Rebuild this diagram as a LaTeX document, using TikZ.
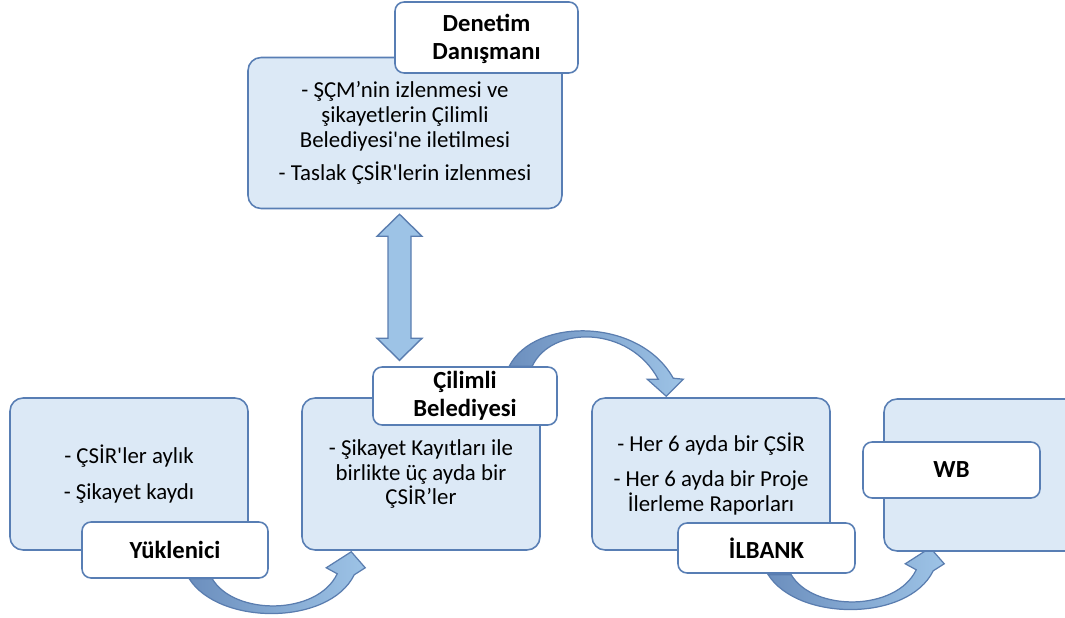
\documentclass[tikz,border=0pt]{standalone}
\usepackage{fontspec}
\setmainfont{Carlito}
\usetikzlibrary{calc,backgrounds}
\definecolor{boxfill}{RGB}{220,233,246}
\definecolor{boxline}{RGB}{88,126,180}
\definecolor{arrowfill}{RGB}{157,195,230}
\definecolor{arrowdark}{RGB}{108,143,190}
\definecolor{arrowline}{RGB}{90,125,175}
\tikzset{
	infobox/.style={draw=boxline, fill=boxfill, line width=0.9pt, rounded corners=0.26cm,
		minimum width=4.76cm, minimum height=3.04cm, inner sep=0pt, align=center,
		font=\fontsize{13}{14.2}\selectfont},
	tagbox/.style={draw=boxline, fill=white, line width=0.9pt, rounded corners=0.18cm,
		inner sep=0pt, align=center, font=\fontsize{14}{15.8}\selectfont\bfseries},
	bendarrow/.style={draw=arrowline, line width=0.7pt, left color=arrowdark, right color=arrowfill},
	bigarrow/.style={draw=arrowline, line width=0.8pt, fill=arrowfill}
}
\def\lowbend{(0,0) .. controls (30,47) and (140,47) .. (165,-4) -- (176,-11) -- (162,-27) -- (137,-11) -- (148,-5) .. controls (128,37) and (45,37) .. (23,0) -- cycle}
\def\highbend{(0,0) .. controls (25,-49) and (130,-49) .. (164,12) -- (174,13) -- (157,30) -- (138,13) -- (149,13) .. controls (120,-41) and (42,-41) .. (23,0) -- cycle}

\begin{document}
\begin{tikzpicture}[x=0.02cm, y=-0.02cm]
	\useasboundingbox (0,0) rectangle (1065,618);
	\clip (0,0) rectangle (1065,618);
	
	%the blue boxes
	\node[infobox, minimum width=6.28cm, minimum height=3.02cm] (dd) at (405,133)
		{- ŞÇM’nin izlenmesi ve\\ şikayetlerin Çilimli\\ Belediyesi\textquotesingle ne iletilmesi\\[5pt] - Taslak ÇSİR\textquotesingle lerin izlenmesi};
	\node[infobox] (yuk) at (129,474) {- ÇSİR\textquotesingle ler aylık\\[6pt] - Şikayet kaydı};
	\node[infobox] (bel) at (421,474) {- Şikayet Kayıtları ile\\ birlikte üç ayda bir\\ ÇSİR’ler};
	\node[infobox] (ilb) at (711,474) {- Her 6 ayda bir ÇSİR\\[6pt] - Her 6 ayda bir Proje\\ İlerleme Raporları};
	\node[infobox] (wb) at (1003,475) {};
	
	%the labels on top of the boxes
	\node[tagbox, minimum width=3.66cm, minimum height=1.42cm] (dd-tag) at (486.5,37.5) {\strut Denetim\\ Danışmanı};
	\node[tagbox, minimum width=3.68cm, minimum height=1.16cm] (bel-tag) at (465,396) {Çilimli\\ Belediyesi};
	\node[tagbox, minimum width=3.72cm, minimum height=1.12cm] (yuk-tag) at (175,550) {Yüklenici};
	\node[tagbox, minimum width=3.54cm, minimum height=1.0cm] (ilb-tag) at (766.5,548) {İLBANK};
	\node[tagbox, minimum width=3.54cm, minimum height=1.12cm] (wb-tag) at (951.5,470) {WB};
	
	%arrows between the boxes
	\begin{scope}[on background layer]
		\coordinate (dd-tip) at ($(dd.south)+(-5.5,5)$);
		\path[bigarrow] (dd-tip) -- ++(22.5,22) -- ++(-11,0) -- ++(0,102) -- ++(11,0) -- ++(-22.5,22)
			-- ++(-22.5,-22) -- ++(11,0) -- ++(0,-102) -- ++(-11,0) -- cycle;
		\path[bendarrow, shift={($(yuk-tag.south west)+(108,0)$)}] \lowbend;
		\path[bendarrow, shift={($(ilb-tag.south west)+(91,1)$)}] \lowbend;
		\path[bendarrow, shift={($(bel-tag.north west)+(137,0)$)}] \highbend;
	\end{scope}
\end{tikzpicture}
\end{document}
